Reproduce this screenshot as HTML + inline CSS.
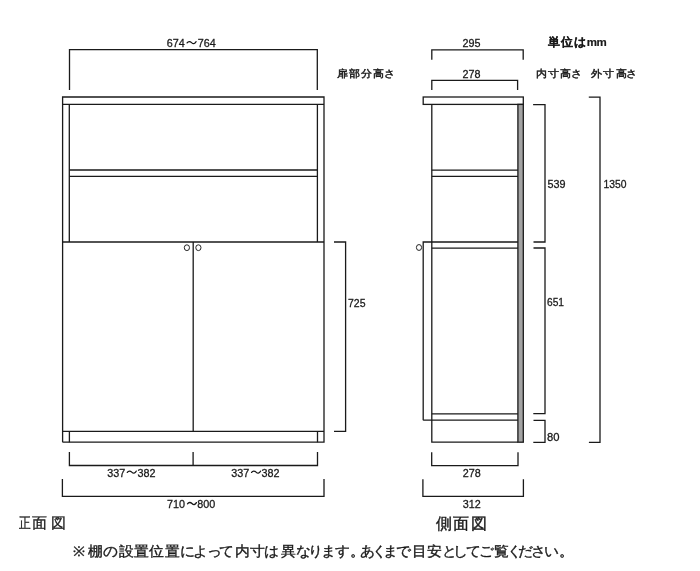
<!DOCTYPE html>
<html><head><meta charset="utf-8">
<style>
html,body{margin:0;padding:0;background:#fff;}
body{width:700px;height:571px;overflow:hidden;font-family:"Liberation Sans",sans-serif;}
svg{display:block;}
text{font-family:"Liberation Sans",sans-serif;fill:#1a1a1a;}
.d{font-size:11.6px;stroke:#1a1a1a;stroke-width:0.3;}
.j{font-size:12.5px;stroke:#1a1a1a;stroke-width:0.3;}
.b{font-weight:bold;}
svg{filter:grayscale(100%);}
</style></head><body>
<svg width="700" height="571" viewBox="0 0 700 571">
<g fill="none" stroke="#1a1a1a" stroke-width="1.3" stroke-linecap="butt" stroke-linejoin="miter">
<!-- FRONT VIEW -->
<path d="M62.6,442.2V97H324V442.2H62.6"/>
<path d="M62.6,104.4H324"/>
<path d="M69.3,104.4V242M317.4,104.4V242"/>
<path d="M69.3,170H317.4M69.3,176.4H317.4"/>
<path d="M62.6,242H324"/>
<path d="M193.2,242V431.3"/>
<path d="M62.6,431.3H324"/>
<path d="M69.4,431.3V442.2M317.5,431.3V442.2"/>
<ellipse cx="186.9" cy="247.7" rx="2.6" ry="2.9" stroke-width="0.95"/>
<ellipse cx="198.4" cy="247.7" rx="2.6" ry="2.9" stroke-width="0.95"/>
<!-- front dims -->
<path d="M69.5,90V49.6H317.3V90"/>
<path d="M334,242H345.6V431.3H334"/>
<path d="M69.4,452V465.5H317.5V452M193.1,452V465.5"/>
<path d="M62.4,479V496.3H324V479"/>
<!-- SIDE VIEW -->
<path d="M431.8,59.7V49.8H523.2V59.7"/>
<path d="M431.8,89.9V80.4H517.6V89.9"/>
<rect x="423.2" y="97" width="100.1" height="7.4"/>
<rect x="517.9" y="104.4" width="5.4" height="337.8" fill="#a3a3a3"/>
<path d="M431.8,104.4V442.2H517.9"/>
<path d="M431.8,170.1H517.9M431.8,176.3H517.9"/>
<path d="M423.2,420.2V242H517.9M431.8,248.1H517.9"/>
<path d="M431.8,413.9H517.9M423.2,420.2H517.9"/>
<ellipse cx="419" cy="247.5" rx="2.6" ry="2.95" stroke-width="0.95"/>
<path d="M431.7,452.3V465.6H518V452.3"/>
<path d="M422.9,479.3V496.4H523.4V479.3"/>
<!-- right dims -->
<path d="M533.1,104.6H545V242H533.5"/>
<path d="M533.5,248H545V413.7H533.3"/>
<path d="M533.5,420.4H545V442.3H533.3"/>
<path d="M588.8,97.1H600V442.3H588.9"/>
</g>
<!-- texts -->
<g fill="none" stroke="#151515" stroke-width="1.3" stroke-linecap="round">
<path d="M187.10,42.90C188.30,41.20 190.10,41.20 191.55,42.60S194.80,44.20 196.00,41.70"/>
<path d="M127.30,472.40C128.50,470.70 130.30,470.70 131.75,472.10S135.00,473.70 136.20,471.20"/>
<path d="M251.60,472.40C252.80,470.70 254.60,470.70 256.05,472.10S259.30,473.70 260.50,471.20"/>
<path d="M187.50,503.80C188.70,502.10 190.50,502.10 191.95,503.50S195.20,505.10 196.40,502.60"/>
</g>
<text class="d" x="166.7" y="47.1" textLength="18" lengthAdjust="spacingAndGlyphs">674</text>
<text class="d" x="197.7" y="47.1" textLength="18" lengthAdjust="spacingAndGlyphs">764</text>
<text class="d" x="107.3" y="476.6" textLength="18" lengthAdjust="spacingAndGlyphs">337</text>
<text class="d" x="137.5" y="476.6" textLength="18" lengthAdjust="spacingAndGlyphs">382</text>
<text class="d" x="231.2" y="476.6" textLength="18" lengthAdjust="spacingAndGlyphs">337</text>
<text class="d" x="261.4" y="476.6" textLength="18" lengthAdjust="spacingAndGlyphs">382</text>
<text class="d" x="167.1" y="508.0" textLength="18" lengthAdjust="spacingAndGlyphs">710</text>
<text class="d" x="197.3" y="508.0" textLength="18" lengthAdjust="spacingAndGlyphs">800</text>
<text class="d" x="348" y="306.6" textLength="17.5" lengthAdjust="spacingAndGlyphs">725</text>
<text class="d" x="462.5" y="47" textLength="18" lengthAdjust="spacingAndGlyphs">295</text>
<text class="d" x="462.5" y="77.5" textLength="18" lengthAdjust="spacingAndGlyphs">278</text>
<text class="d" x="462.8" y="476.8" textLength="18" lengthAdjust="spacingAndGlyphs">278</text>
<text class="d" x="462.8" y="507.5" textLength="18" lengthAdjust="spacingAndGlyphs">312</text>
<text class="d" x="547.4" y="188.1" textLength="18" lengthAdjust="spacingAndGlyphs">539</text>
<text class="d" x="603.4" y="188.1" textLength="23" lengthAdjust="spacingAndGlyphs">1350</text>
<text class="d" x="547" y="306.4" textLength="17" lengthAdjust="spacingAndGlyphs">651</text>
<text class="d" x="547" y="441.4" textLength="12.5" lengthAdjust="spacingAndGlyphs">80</text>
<text transform="scale(1.1,1)" style="font-size:10.5px;font-weight:normal;stroke:#1a1a1a;stroke-width:0.45px" x="306.19 317.14 328.19 338.83 349.22" y="77.0">扉部分高さ</text>
<text transform="scale(1.1,1)" style="font-size:10.5px;font-weight:normal;stroke:#1a1a1a;stroke-width:0.45px" x="487.52 498.01 509.38 519.53" y="77.0">内寸高さ</text>
<text transform="scale(1.1,1)" style="font-size:10.5px;font-weight:normal;stroke:#1a1a1a;stroke-width:0.45px" x="537.33 548.51 559.74 569.49" y="77.0">外寸高さ</text>
<text style="font-size:11.5px;font-weight:bold;stroke:#1a1a1a;stroke-width:0.2px" x="547.95 560.9 574.1 586.83 596.62" y="46.3">単位はmm</text>
<text transform="scale(0.78,1)" style="font-size:15px;font-weight:normal;stroke:#1a1a1a;stroke-width:0.3px" x="24.03" y="528.3">正</text>
<text style="font-size:15px;font-weight:normal;stroke:#1a1a1a;stroke-width:0.3px" x="32.42 50.55" y="528.3">面図</text>
<text style="font-size:15.5px;font-weight:normal;stroke:#1a1a1a;stroke-width:0.4px" x="435.72 453.35 471.15" y="528.6">側面図</text>
<text transform="scale(1.06,1)" style="font-size:13.5px;font-weight:normal;stroke:#1a1a1a;stroke-width:0.35px" x="69.33 82.85 97.38 112.01 126.66 140.88 155.53 169.54 182.48 195.0 206.91 221.25 235.53 249.43 264.87 279.4 290.72 303.08 315.7 329.96 339.35 351.17 361.57 373.69 388.44 402.57 416.68 427.69 439.36 451.53 465.75 478.15 488.35 501.3 512.76 527.17" y="555.7">※棚の設置位置によって内寸は異なります。あくまで目安としてご覧ください。</text>
</svg>
</body></html>
